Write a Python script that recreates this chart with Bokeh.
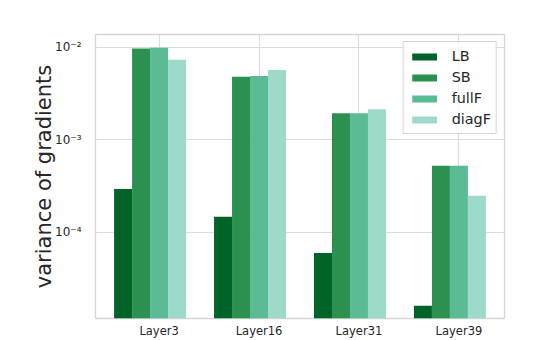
from bokeh.plotting import figure
from bokeh.models import ColumnDataSource, Range1d, FixedTicker
from bokeh.transform import dodge
from bokeh.embed import file_html
from bokeh.resources import INLINE

# ---- data ----
layers = ["Layer3", "Layer16", "Layer31", "Layer39"]
lb = [2.92e-4, 1.46e-4, 5.93e-5, 1.59e-5]
sb = [9.66e-3, 4.79e-3, 1.925e-3, 5.21e-4]
fullf = [9.83e-3, 4.86e-3, 1.92e-3, 5.20e-4]
diagf = [7.29e-3, 5.64e-3, 2.13e-3, 2.47e-4]
series_names = ["LB", "SB", "fullF", "diagF"]
series_colors = ["#006328", "#2a9150", "#5abb95", "#9edaca"]
y_ticks = [1e-4, 1e-3, 1e-2]
y_tick_labels = ["10\u207b\u2074", "10\u207b\u00b3", "10\u207b\u00b2"]

pos = list(range(len(layers)))
src = ColumnDataSource(dict(pos=pos, LB=lb, SB=sb, fullF=fullf, diagF=diagf,
                            base=[1e-6] * len(layers)))

p = figure(width=538, height=340, y_axis_type="log",
           x_range=Range1d(-0.636, 3.456), y_range=Range1d(1.16e-5, 1.368e-2),
           output_backend="svg", toolbar_location=None,
           min_border_left=95, min_border_right=34, min_border_top=34,
           min_border_bottom=21)

offsets = [-0.36, -0.18, 0.0, 0.18]
for name, col, off in zip(series_names, series_colors, offsets):
    p.vbar(x=dodge("pos", off), top=name, bottom="base", width=0.18, source=src,
           fill_color=col, line_color=None, legend_label=name)

font = "DejaVu Sans"
txt = "#262626"

# x axis
p.xaxis.ticker = FixedTicker(ticks=pos)
p.xaxis.major_label_overrides = {i: l for i, l in zip(pos, layers)}
p.xaxis.major_label_text_font = font
p.xaxis.major_label_text_font_size = "11.5px"
p.xaxis.major_label_text_color = txt
p.xaxis.major_label_standoff = -1
p.xaxis.axis_line_color = None
p.xaxis.major_tick_line_color = None
p.xaxis.minor_tick_line_color = None

# y axis
p.yaxis.ticker = FixedTicker(ticks=y_ticks)
p.yaxis.major_label_overrides = {t: l for t, l in zip(y_ticks, y_tick_labels)}
p.yaxis.major_label_text_font = font
p.yaxis.major_label_text_font_size = "12px"
p.yaxis.major_label_text_color = txt
p.yaxis.major_label_standoff = 8
p.yaxis.axis_line_color = None
p.yaxis.major_tick_line_color = None
p.yaxis.minor_tick_line_color = None
p.yaxis.axis_label = "variance of gradients"
p.yaxis.axis_label_text_font = font
p.yaxis.axis_label_text_font_size = "21px"
p.yaxis.axis_label_text_font_style = "normal"
p.yaxis.axis_label_text_color = txt
p.yaxis.axis_label_standoff = -4

# grid & frame
p.xgrid.grid_line_color = "#dcdcdc"
p.ygrid.grid_line_color = "#dcdcdc"
p.xgrid.grid_line_width = 1.2
p.ygrid.grid_line_width = 1.2
p.outline_line_color = "#d5d5d5"
p.outline_line_width = 1.3
p.background_fill_color = "white"
p.border_fill_color = "white"

# legend
lg = p.legend[0]
lg.location = "top_right"
lg.margin = 7
lg.padding = 5
lg.spacing = 3
lg.label_height = 18
lg.glyph_width = 31
lg.glyph_height = 9
lg.label_standoff = 12
lg.label_text_font = font
lg.label_text_font_size = "14.4px"
lg.label_text_color = txt
lg.border_line_color = "#cccccc"
lg.border_line_alpha = 0.8
lg.background_fill_alpha = 0.8

open("out.html", "w").write(file_html(p, INLINE))
